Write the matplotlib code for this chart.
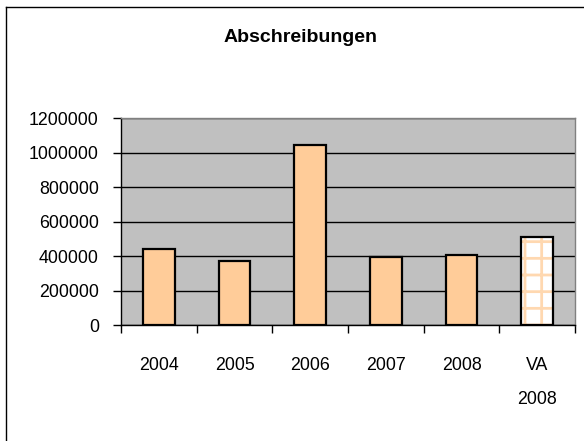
import matplotlib
matplotlib.use("Agg")
import matplotlib.pyplot as plt
from matplotlib.lines import Line2D
import numpy as np

# values
categories = ["2004", "2005", "2006", "2007", "2008", "VA\n2008"]
values = [443000, 373000, 1048000, 396000, 406000, 511000]
y_ticks = [0, 200000, 400000, 600000, 800000, 1000000, 1200000]

plt.rcParams["font.family"] = ["Liberation Sans", "DejaVu Sans"]
plt.rcParams["hatch.linewidth"] = 2.0

fig = plt.figure(figsize=(5.84, 4.41), dpi=100)
ax = fig.add_axes([0.2072, 0.263, 0.7774, 0.4683])
ax.set_facecolor("#C0C0C0")

x = np.arange(len(categories))
w = 0.42

# solid bars for the actual years
ax.bar(x[:-1], values[:-1], width=w, color="#FFCC99",
       edgecolor="black", linewidth=1.6, zorder=3)

# forecast bar: white with light orange grid
ax.bar(x[-1:], values[-1:], width=w, color="white", hatch="+",
       edgecolor="#FFD8B0", linewidth=0, zorder=3)
ax.bar(x[-1:], values[-1:], width=w, fill=False,
       edgecolor="black", linewidth=1.6, zorder=4)

ax.set_xlim(-0.5, len(categories) - 0.5)
ax.set_ylim(0, 1200000)
ax.set_yticks(y_ticks)
ax.set_yticklabels([str(v) for v in y_ticks], fontsize=12.8)
ax.yaxis.grid(True, color="black", linewidth=1.0, zorder=1)
ax.set_axisbelow(True)

ax.set_xticks(x)
ax.set_xticklabels(categories, fontsize=12.8, linespacing=2.3)
ax.set_xticks(np.arange(len(categories) + 1) - 0.5, minor=True)
ax.tick_params(axis="x", which="major", length=0, pad=23)
ax.tick_params(axis="x", which="minor", length=6, width=1.0, direction="out",
               color="black")
ax.tick_params(axis="y", length=6, width=1.0, direction="out", pad=10)

for s in ["left", "bottom"]:
    ax.spines[s].set_color("black")
    ax.spines[s].set_linewidth(1.0)
for s in ["top", "right"]:
    ax.spines[s].set_color("#808080")
    ax.spines[s].set_linewidth(1.0)

fig.text(0.514, 0.916, "Abschreibungen", ha="center", va="center",
         fontsize=14, fontweight="bold")

# chart frame (left and top edges visible)
fig.add_artist(Line2D([0.0103, 0.0103], [0.0, 0.984], color="black",
                      linewidth=1.0, transform=fig.transFigure))
fig.add_artist(Line2D([0.0103, 1.0], [0.984, 0.984], color="black",
                      linewidth=1.0, transform=fig.transFigure))

fig.savefig("out.png", dpi=100)
